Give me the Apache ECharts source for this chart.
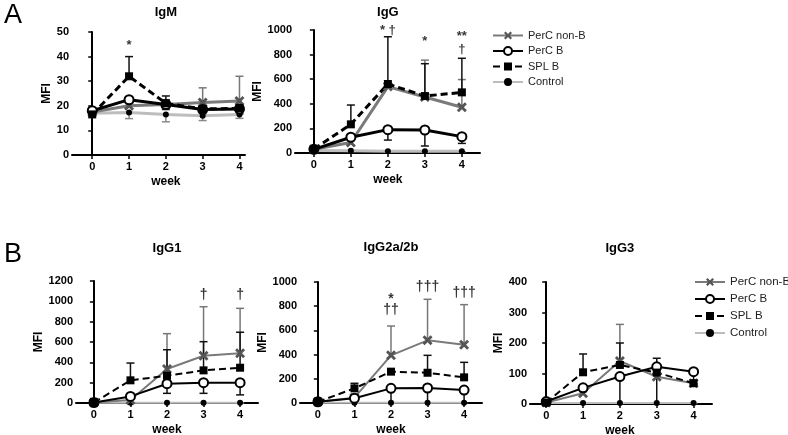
<!DOCTYPE html>
<html><head><meta charset="utf-8">
<script src="https://cdn.jsdelivr.net/npm/echarts@6/dist/echarts.min.js"></script>
<style>html,body{margin:0;padding:0;background:#fff}#c{width:788px;height:435px}</style>
</head><body><div id="c"></div>
<script>
const weeks = [0, 1, 2, 3, 4];
const seriesNames = ['PerC non-B', 'PerC B', 'SPL B', 'Control'];

// IgM
const igM_nonB = [17.5, 20, 20.5, 21.3, 22];   const igM_nonB_sd = [1.5, 2.5, 2, 6, 10];
const igM_percB = [18, 22.5, 20.5, 18.5, 18.7]; const igM_percB_sd = [1.5, 1.5, 2, 2, 2];
const igM_splB = [16.5, 32, 21, 18.7, 19];     const igM_splB_sd = [1, 8, 3, 1, 1];
const igM_ctrl = [17, 17.3, 16.5, 16, 16.5];   const igM_ctrl_sd = [1, 2.5, 3, 2, 1.6];
// IgG
const igG_nonB = [30, 85, 540, 455, 372];      const igG_nonB_sd = [5, 20, 20, 300, 225];
const igG_percB = [30, 128, 190, 187, 133];    const igG_percB_sd = [5, 20, 85, 130, 55];
const igG_splB = [32, 233, 561, 463, 493];     const igG_splB_sd = [10, 157, 384, 263, 277];
const igG_ctrl = [20, 18, 15, 15, 15];         const igG_ctrl_sd = [5, 5, 5, 5, 5];
// IgG1
const igG1_nonB = [5, 30, 335, 465, 489];      const igG1_nonB_sd = [2, 10, 347, 482, 442];
const igG1_percB = [5, 65, 190, 200, 200];     const igG1_percB_sd = [2, 10, 95, 105, 120];
const igG1_splB = [5, 223, 268, 321, 347];     const igG1_splB_sd = [2, 170, 256, 282, 349];
const igG1_ctrl = [2, 2, 2, 2, 2];             const igG1_ctrl_sd = [1, 1, 1, 1, 1];
// IgG2a/2b
const igG2_nonB = [10, 44, 394, 518, 482];     const igG2_nonB_sd = [5, 10, 242, 339, 331];
const igG2_percB = [10, 40, 121, 124, 107];    const igG2_percB_sd = [2, 10, 121, 124, 107];
const igG2_splB = [10, 121, 259, 250, 212];    const igG2_splB_sd = [2, 42, 10, 144, 124];
const igG2_ctrl = [2, 2, 2, 2, 2];             const igG2_ctrl_sd = [1, 1, 1, 1, 1];
// IgG3
const igG3_nonB = [5, 35, 141, 89, 68];        const igG3_nonB_sd = [2, 5, 120, 10, 10];
const igG3_percB = [8, 53, 90, 122, 106];      const igG3_percB_sd = [2, 10, 90, 122, 40];
const igG3_splB = [5, 104, 128, 103, 68];      const igG3_splB_sd = [2, 60, 72, 47, 10];
const igG3_ctrl = [3, 3, 3, 3, 3];             const igG3_ctrl_sd = [1, 1, 1, 1, 1];

// significance annotations: [week, y value, text]
const igM_ann = [[1, 44.5, '*']];
const igG_ann = [[2, 1000, '* \u2020'], [3, 905, '*'], [4, 945, '**'], [4, 840, '\u2020']];
const igG1_ann = [[3, 1060, '\u2020'], [4, 1060, '\u2020']];
const igG2_ann = [[2, 857, '*'], [2, 768, '\u2020\u2020'], [3, 1060, '*'], [3, 956, '\u2020\u2020\u2020'], [4, 907, '\u2020\u2020\u2020']];
const igG3_ann = [];

const FONT = 'Liberation Sans, Arial, sans-serif';
const styles = [
  {color: '#7a7a7a', sym: 'path://M2,0L5,3L8,0L10,2L7,5L10,8L8,10L5,7L2,10L0,8L3,5L0,2Z', size: 10, dash: 'solid', fill: '#555', bw: 0, dir: 1},
  {color: '#000', sym: 'emptyCircle', size: 9, dash: 'solid', fill: '#000', bw: 2, dir: -1},
  {color: '#000', sym: 'rect', size: 8, dash: [7, 4], fill: '#000', bw: 0, dir: 1},
  {color: '#bdbdbd', sym: 'circle', size: 6, dash: 'solid', fill: '#000', bw: 0, dir: -1}
];

const panels = [
  {title: 'IgM', grid: {left: 72, top: 32, width: 173, height: 123}, xMin: -0.55, xMax: 4.15, yMax: 50, yInt: 10, lw: 3, titleY: 12, nameGap: 18,
   vals: [igM_nonB, igM_percB, igM_splB, igM_ctrl], sds: [igM_nonB_sd, igM_percB_sd, igM_splB_sd, igM_ctrl_sd], ann: igM_ann, annSize: 13},
  {title: 'IgG', grid: {left: 295, top: 30, width: 185, height: 123}, xMin: -0.51, xMax: 4.49, yMax: 1000, yInt: 200, lw: 3, titleY: 12, nameGap: 26,
   vals: [igG_nonB, igG_percB, igG_splB, igG_ctrl], sds: [igG_nonB_sd, igG_percB_sd, igG_splB_sd, igG_ctrl_sd], ann: igG_ann, annSize: 13},
  {title: 'IgG1', grid: {left: 76, top: 281, width: 182, height: 122}, xMin: -0.49, xMax: 4.49, yMax: 1200, yInt: 200, lw: 2, titleY: 248, nameGap: 28,
   vals: [igG1_nonB, igG1_percB, igG1_splB, igG1_ctrl], sds: [igG1_nonB_sd, igG1_percB_sd, igG1_splB_sd, igG1_ctrl_sd], ann: igG1_ann, annSize: 14},
  {title: 'IgG2a/2b', grid: {left: 300, top: 282, width: 182, height: 121}, xMin: -0.49, xMax: 4.49, yMax: 1000, yInt: 200, lw: 2, titleY: 247, nameGap: 29,
   vals: [igG2_nonB, igG2_percB, igG2_splB, igG2_ctrl], sds: [igG2_nonB_sd, igG2_percB_sd, igG2_splB_sd, igG2_ctrl_sd], ann: igG2_ann, annSize: 14},
  {title: 'IgG3', grid: {left: 530, top: 282, width: 182, height: 122}, xMin: -0.44, xMax: 4.5, yMax: 400, yInt: 100, lw: 2, titleY: 248, nameGap: 18,
   vals: [igG3_nonB, igG3_percB, igG3_splB, igG3_ctrl], sds: [igG3_nonB_sd, igG3_percB_sd, igG3_splB_sd, igG3_ctrl_sd], ann: igG3_ann, annSize: 14}
];

const grids = [], xAxes = [], yAxes = [], series = [], graphics = [];
panels.forEach((p, gi) => {
  grids.push(Object.assign({containLabel: false}, p.grid));
  xAxes.push({type: 'value', gridIndex: gi, min: p.xMin, max: p.xMax,
    axisLine: {lineStyle: {color: '#000', width: 2}},
    axisTick: {show: true, customValues: weeks, length: 4, lineStyle: {color: '#000', width: 1.5}},
    axisLabel: {customValues: weeks, color: '#000', fontWeight: 'bold', fontSize: 11, fontFamily: FONT, margin: 6},
    splitLine: {show: false}});
  yAxes.push({type: 'value', gridIndex: gi, min: 0, max: p.yMax, interval: p.yInt,
    name: 'MFI', nameLocation: 'middle', nameGap: p.nameGap, nameRotate: 90,
    nameTextStyle: {color: '#000', fontWeight: 'bold', fontSize: 12, fontFamily: FONT},
    axisLine: {show: true, lineStyle: {color: '#000', width: 2}},
    axisTick: {show: true, length: 4, lineStyle: {color: '#000', width: 1.5}},
    axisLabel: {color: '#000', fontWeight: 'bold', fontSize: 11, fontFamily: FONT, margin: 3, formatter: v => String(v)},
    splitLine: {show: false}});
  const cx = p.grid.left + (2 - p.xMin) / (p.xMax - p.xMin) * p.grid.width;
  graphics.push({type: 'text', x: cx, y: p.titleY, style: {text: p.title, textAlign: 'center', textVerticalAlign: 'middle', font: 'bold 13px ' + FONT, fill: '#000'}});
  graphics.push({type: 'text', x: cx, y: p.grid.top + p.grid.height + 27, style: {text: 'week', textAlign: 'center', textVerticalAlign: 'middle', font: 'bold 12px ' + FONT, fill: '#000'}});

  // error bars (drawn below lines)
  [3, 0, 1, 2].forEach(si => {
    const st = styles[si];
    series.push({type: 'custom', name: 'err', xAxisIndex: gi, yAxisIndex: gi, z: 1, silent: true,
      data: weeks.map((w, i) => [w, p.vals[si][i], p.sds[si][i]]),
      encode: {x: 0, y: 1},
      renderItem: (params, api) => {
        const x = api.value(0), m = api.value(1), sd = api.value(2);
        const a = api.coord([x, m]), b = api.coord([x, m + st.dir * sd]);
        const col = si === 3 ? '#8a8a8a' : (si === 0 ? '#777' : '#111');
        return {type: 'group', children: [
          {type: 'line', shape: {x1: a[0], y1: a[1], x2: b[0], y2: b[1]}, style: {stroke: col, lineWidth: 1.5}},
          {type: 'line', shape: {x1: b[0] - 4, y1: b[1], x2: b[0] + 4, y2: b[1]}, style: {stroke: col, lineWidth: 1.5}}
        ]};
      }});
  });
  // lines
  [3, 0, 1, 2].forEach(si => {
    const st = styles[si];
    series.push({type: 'line', name: seriesNames[si], xAxisIndex: gi, yAxisIndex: gi, z: 3,
      data: weeks.map((w, i) => [w, p.vals[si][i]]),
      symbol: st.sym, symbolSize: st.size, showAllSymbol: true,
      lineStyle: {color: st.color, width: p.lw, type: st.dash},
      itemStyle: {color: st.fill, borderColor: st.fill, borderWidth: st.bw},
      emphasis: {disabled: true}, animation: false});
  });
  // annotations
  series.push({type: 'scatter', name: 'ann', xAxisIndex: gi, yAxisIndex: gi, z: 5, symbolSize: 0, silent: true,
    data: p.ann,
    label: {show: true, position: 'inside', formatter: q => q.data[2], color: '#000', fontSize: p.annSize, fontFamily: FONT, fontWeight: 'bold'}});
});

graphics.push({type: 'text', x: 4, y: 16, style: {text: 'A', textVerticalAlign: 'middle', font: '27px ' + FONT, fill: '#000'}});
graphics.push({type: 'text', x: 4, y: 255, style: {text: 'B', textVerticalAlign: 'middle', font: '27px ' + FONT, fill: '#000'}});

const chart = echarts.init(document.getElementById('c'), null, {renderer: 'canvas'});
chart.setOption({
  backgroundColor: '#fff',
  animation: false,
  grid: grids, xAxis: xAxes, yAxis: yAxes, series: series, graphic: graphics,
  legend: [
    {data: seriesNames, orient: 'vertical', left: 492, top: 30, padding: 0, itemWidth: 30, itemHeight: 10, itemGap: 4.5,
     textStyle: {fontSize: 11, fontFamily: FONT, color: '#222'}, selectedMode: false},
    {data: seriesNames, orient: 'vertical', left: 694, top: 276, padding: 0, itemWidth: 30, itemHeight: 10, itemGap: 5,
     textStyle: {fontSize: 11.5, fontFamily: FONT, color: '#222'}, selectedMode: false}
  ]
});
</script></body></html>
